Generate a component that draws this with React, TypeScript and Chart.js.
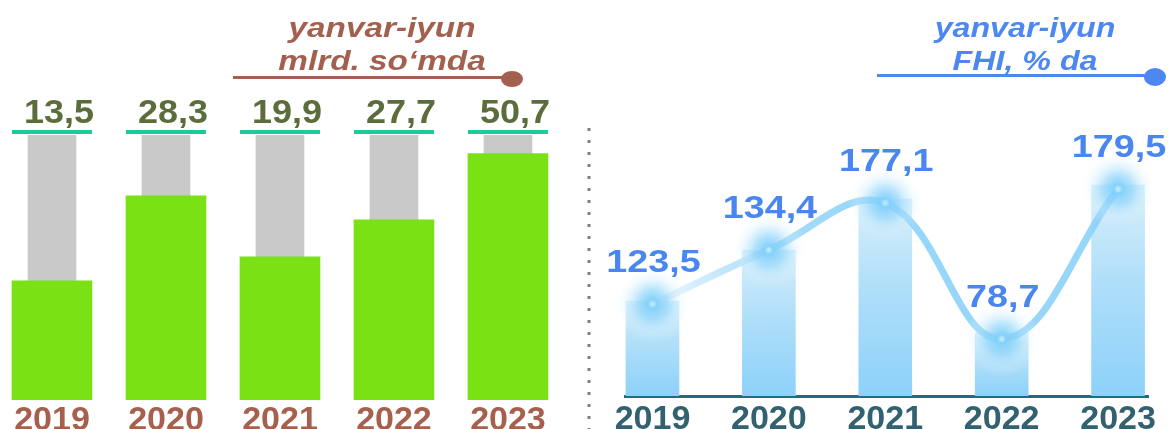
import React, { useEffect, useRef } from 'react';
import { Chart, registerables } from 'chart.js';

Chart.register(...registerables);

// ---------- data ----------
const years = ['2019', '2020', '2021', '2022', '2023'];

// Left panel: yanvar-iyun, mlrd. so'm
const mlrdValues = [13.5, 28.3, 19.9, 27.7, 50.7];
// Pictorial fill of each green bar as % of the grey track (bars are not drawn to scale in the picture)
const mlrdFillLevel = [45, 77, 54, 68, 93];
const mlrdTrackLevel = [100, 100, 100, 100, 100];

// Right panel: yanvar-iyun, FHI, % da
const fhiValues = [123.5, 134.4, 177.1, 78.7, 179.5];
// Pictorial heights (not to scale with the values)
const fhiBarLevel = [95, 146, 197, 63, 211];
const fhiLineLevel = [92, 146, 193, 57, 207];

const leftTitle = ['yanvar-iyun', 'mlrd. so\u2018mda'];
const rightTitle = ['yanvar-iyun', 'FHI, % da'];

const FONT = '"Liberation Sans", Arial, Helvetica, sans-serif';
const fmt = (v: number) => v.toFixed(1).replace('.', ',');

// text drawn with a horizontal stretch, as in the picture
function stretchText(ctx: CanvasRenderingContext2D, text: string, cx: number, y: number, sx: number) {
  ctx.save();
  ctx.translate(cx, y);
  ctx.scale(sx, 1);
  ctx.textAlign = 'center';
  ctx.textBaseline = 'alphabetic';
  ctx.fillText(text, 0, 0);
  ctx.restore();
}

function drawTitle(ctx: CanvasRenderingContext2D, lines: string[], cx: number, color: string, lx1: number, lx2: number, ly: number, dotX: number, dotY: number, rx: number, ry: number, sx: number) {
  ctx.save();
  ctx.fillStyle = color;
  ctx.strokeStyle = color;
  ctx.font = `italic bold 28px ${FONT}`;
  stretchText(ctx, lines[0], cx, 37, sx);
  stretchText(ctx, lines[1], cx, 70, sx);
  ctx.lineWidth = 3;
  ctx.beginPath();
  ctx.moveTo(lx1, ly);
  ctx.lineTo(lx2, ly);
  ctx.stroke();
  ctx.beginPath();
  ctx.ellipse(dotX, dotY, rx, ry, 0, 0, Math.PI * 2);
  ctx.fill();
  ctx.restore();
}

const leftDecor = {
  id: 'leftDecor',
  afterDraw(chart: any) {
    const ctx: CanvasRenderingContext2D = chart.ctx;
    const top = chart.chartArea.top;
    const meta = chart.getDatasetMeta(0);
    ctx.save();
    meta.data.forEach((bar: any, i: number) => {
      const { x, width } = bar.getProps(['x', 'width'], true);
      ctx.fillStyle = '#1dca9c';
      ctx.fillRect(x - width / 2, top - 5, width, 4);
      ctx.font = `bold 33px ${FONT}`;
      ctx.fillStyle = '#5b6d3a';
      stretchText(ctx, fmt(mlrdValues[i]), x + 7, top - 12, 1.09);
    });
    ctx.restore();
    drawTitle(ctx, leftTitle, 382, '#a4604f', 233, 505, 77.5, 512, 79, 11, 8, 1.19);
  },
};

const rightDecor = {
  id: 'rightDecor',
  afterDraw(chart: any) {
    const ctx: CanvasRenderingContext2D = chart.ctx;
    ctx.save();
    // dotted separator
    ctx.strokeStyle = '#7f7f7f';
    ctx.lineWidth = 3;
    ctx.setLineDash([3, 9]);
    ctx.beginPath();
    ctx.moveTo(9, 128);
    ctx.lineTo(9, 429);
    ctx.stroke();
    ctx.setLineDash([]);
    // value labels
    const meta = chart.getDatasetMeta(0);
    meta.data.forEach((pt: any, i: number) => {
      const { x, y } = pt.getProps(['x', 'y'], true);
      ctx.font = `bold 32px ${FONT}`;
      ctx.fillStyle = '#4a86f0';
      stretchText(ctx, fmt(fhiValues[i]), x + 1, y - 32, 1.18);
    });
    ctx.restore();
    drawTitle(ctx, rightTitle, 445, '#4d87f2', 297, 568, 75.5, 575, 77, 11, 9, 1.15);
  },
};

function makeGlow(): HTMLCanvasElement {
  const c = document.createElement('canvas');
  c.width = 76;
  c.height = 76;
  const g = c.getContext('2d')!;
  const rg = g.createRadialGradient(38, 38, 0, 38, 38, 38);
  rg.addColorStop(0, 'rgba(205,240,255,1)');
  rg.addColorStop(0.12, 'rgba(128,208,250,0.95)');
  rg.addColorStop(0.4, 'rgba(140,212,250,0.6)');
  rg.addColorStop(0.7, 'rgba(205,237,252,0.3)');
  rg.addColorStop(1, 'rgba(255,255,255,0)');
  g.fillStyle = rg;
  g.fillRect(0, 0, 76, 76);
  return c;
}

export default function App() {
  const leftRef = useRef<HTMLCanvasElement>(null);
  const rightRef = useRef<HTMLCanvasElement>(null);

  useEffect(() => {
    const left = new Chart(leftRef.current!, {
      type: 'bar',
      data: {
        datasets: [
          {
            label: 'fill',
            data: years.map((_, i) => ({ x: i, y: mlrdFillLevel[i] })),
            backgroundColor: '#79e114',
            borderWidth: 0,
            barThickness: 80,
            grouped: false,
            order: 0,
          } as any,
          {
            label: 'track',
            data: years.map((_, i) => ({ x: i, y: mlrdTrackLevel[i] })),
            backgroundColor: '#c9c9c9',
            borderWidth: 0,
            barThickness: 48,
            grouped: false,
            order: 1,
          } as any,
        ],
      },
      options: {
        responsive: false,
        animation: false,
        layout: { padding: { top: 135, left: 0, right: 0, bottom: 0 } },
        plugins: { legend: { display: false }, tooltip: { enabled: false } },
        scales: {
          x: {
            type: 'linear',
            offset: false,
            min: -0.456,
            max: 4.632,
            grid: { display: false, drawTicks: false },
            border: { display: false },
            ticks: {
              stepSize: 1,
              includeBounds: false,
              autoSkip: false,
              maxRotation: 0,
              padding: 0,
              color: '#a6604e',
              font: { family: FONT, size: 34, weight: 'bold' },
              callback: (v: any) => years[v] ?? '',
            },
            afterFit: (s: any) => {
              s.height = 29;
            },
          } as any,
          y: { display: false, min: 0, max: 100 },
        },
      },
      plugins: [leftDecor],
    });

    const glow = makeGlow();
    const right = new Chart(rightRef.current!, {
      type: 'bar',
      data: {
        datasets: [
          {
            type: 'line',
            label: 'FHI',
            data: years.map((_, i) => ({ x: i, y: fhiLineLevel[i] })),
            borderColor: (c: any) => {
              const { chart } = c;
              const a = chart.chartArea;
              if (!a) return '#8fd3f7';
              const g = chart.ctx.createLinearGradient(a.left, 0, a.right, 0);
              g.addColorStop(0, 'rgba(230,245,253,0.95)');
              g.addColorStop(0.1, 'rgba(222,241,252,0.95)');
              g.addColorStop(0.27, 'rgba(165,219,248,0.95)');
              g.addColorStop(0.45, 'rgba(142,211,248,0.92)');
              g.addColorStop(1, 'rgba(142,211,248,0.92)');
              return g;
            },
            borderWidth: 7,
            borderCapStyle: 'round',
            tension: 0.4,
            fill: false,
            pointStyle: glow,
            pointRadius: 10,
            clip: false,
            order: 0,
          } as any,
          {
            type: 'bar',
            label: 'bars',
            data: years.map((_, i) => ({ x: i, y: fhiBarLevel[i] })),
            backgroundColor: (c: any) => {
              const { chart } = c;
              const a = chart.chartArea;
              if (!a || c.type !== 'data') return '#a8dcf8';
              const ys = chart.scales.y;
              const top = ys.getPixelForValue(c.raw.y);
              const bottom = ys.getPixelForValue(0);
              const g = chart.ctx.createLinearGradient(0, top, 0, bottom);
              g.addColorStop(0, '#d8effb');
              g.addColorStop(0.45, '#b0dff9');
              g.addColorStop(1, '#8dd1f9');
              return g;
            },
            borderWidth: 0,
            barThickness: 53,
            grouped: false,
            order: 1,
          } as any,
        ],
      },
      options: {
        responsive: false,
        animation: false,
        layout: { padding: { top: 126, left: 45, right: 23, bottom: 0 } },
        plugins: { legend: { display: false }, tooltip: { enabled: false } },
        scales: {
          x: {
            type: 'linear',
            offset: false,
            min: -0.236,
            max: 4.257,
            grid: { display: false, drawTicks: false },
            border: { display: true, color: '#1d6e7e', width: 3 },
            ticks: {
              stepSize: 1,
              includeBounds: false,
              autoSkip: false,
              maxRotation: 0,
              padding: 3,
              color: '#33616f',
              font: { family: FONT, size: 34, weight: 'bold' },
              callback: (v: any) => years[v] ?? '',
            },
            afterFit: (s: any) => {
              s.height = 33;
            },
          } as any,
          y: { display: false, min: 0, max: 270 },
        },
      },
      plugins: [rightDecor],
    });

    return () => {
      left.destroy();
      right.destroy();
    };
  }, []);

  return (
    <div style={{ position: 'fixed', left: 0, top: 0, width: 1171, height: 429, background: '#ffffff', overflow: 'hidden' }}>
      <canvas ref={leftRef} width={580} height={429} style={{ position: 'absolute', left: 0, top: 0 }} />
      <canvas ref={rightRef} width={591} height={429} style={{ position: 'absolute', left: 580, top: 0 }} />
    </div>
  );
}
